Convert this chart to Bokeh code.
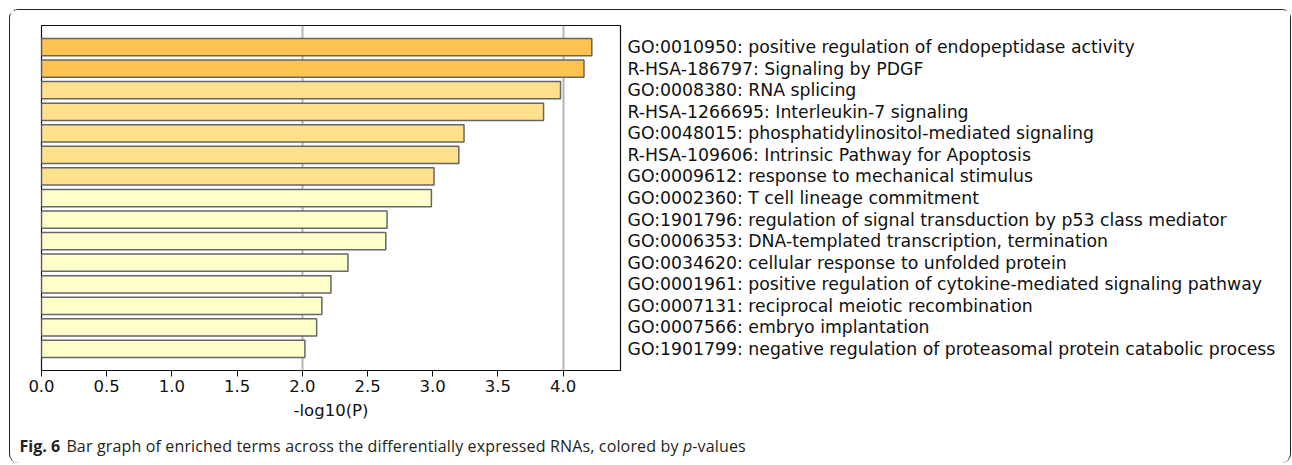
from bokeh.plotting import figure
from bokeh.layouts import column
from bokeh.models import Range1d, FixedTicker, ColumnDataSource, Div
from bokeh.embed import file_html
from bokeh.resources import INLINE

terms = [
    "GO:0010950: positive regulation of endopeptidase activity",
    "R-HSA-186797: Signaling by PDGF",
    "GO:0008380: RNA splicing",
    "R-HSA-1266695: Interleukin-7 signaling",
    "GO:0048015: phosphatidylinositol-mediated signaling",
    "R-HSA-109606: Intrinsic Pathway for Apoptosis",
    "GO:0009612: response to mechanical stimulus",
    "GO:0002360: T cell lineage commitment",
    "GO:1901796: regulation of signal transduction by p53 class mediator",
    "GO:0006353: DNA-templated transcription, termination",
    "GO:0034620: cellular response to unfolded protein",
    "GO:0001961: positive regulation of cytokine-mediated signaling pathway",
    "GO:0007131: reciprocal meiotic recombination",
    "GO:0007566: embryo implantation",
    "GO:1901799: negative regulation of proteasomal protein catabolic process",
]
neg_log_p = [4.22, 4.16, 3.98, 3.85, 3.24, 3.20, 3.01, 2.99, 2.65, 2.64,
             2.35, 2.22, 2.15, 2.11, 2.02]
x_ticks = [0.0, 0.5, 1.0, 1.5, 2.0, 2.5, 3.0, 3.5, 4.0]
grid_ticks = [2, 4]
caption_bold = "Fig. 6"
caption_main = "Bar graph of enriched terms across the differentially expressed RNAs, colored by"
caption_italic = "p"
caption_tail = "-values"

def bar_color(v):
    if v >= 4:
        return "#FFC44F"
    if v >= 3:
        return "#FFE08D"
    return "#FFFFCC"

ypos = list(range(len(terms)))
src = ColumnDataSource(dict(y=ypos, v=neg_log_p, c=[bar_color(v) for v in neg_log_p]))

FONT = "DejaVu Sans"
FS = "16.5px"
LFS = "17.3px"

W = 1280
p = figure(width=W, height=420, output_backend="svg", toolbar_location=None,
           x_range=Range1d(0, 4.44), y_range=Range1d(len(terms), -1),
           y_axis_location="right",
           min_border_left=31, min_border_right=670, min_border_top=15,
           min_border_bottom=60)
p.background_fill_color = "white"
p.border_fill_color = "white"
p.outline_line_color = "#111111"
p.outline_line_width = 1.2

p.hbar(y="y", left=0, right="v", height=0.8, source=src, fill_color="c",
       line_color="#666666", line_width=1.5)

p.ygrid.visible = False
p.xgrid.ticker = FixedTicker(ticks=grid_ticks)
p.xgrid.grid_line_color = "#b5b5b5"
p.xgrid.grid_line_width = 2

xa = p.xaxis[0]
xa.ticker = FixedTicker(ticks=x_ticks)
xa.major_label_overrides = {t: f"{t:.1f}" for t in x_ticks}
xa.major_tick_out = 6
xa.major_tick_in = 0
xa.minor_tick_line_color = None
xa.axis_line_color = "#111111"
xa.axis_line_width = 1.2
xa.major_tick_line_color = "#111111"
xa.major_label_text_font = FONT
xa.major_label_text_font_size = FS
xa.major_label_text_color = "#111111"
xa.major_label_standoff = 3
xa.axis_label = "-log10(P)"
xa.axis_label_text_font = FONT
xa.axis_label_text_font_size = FS
xa.axis_label_text_font_style = "normal"
xa.axis_label_text_color = "#111111"
xa.axis_label_standoff = 6

ya = p.yaxis[0]
ya.ticker = FixedTicker(ticks=ypos)
ya.major_label_overrides = {i: t for i, t in enumerate(terms)}
ya.major_tick_line_color = None
ya.major_tick_out = 0
ya.major_tick_in = 0
ya.minor_tick_line_color = None
ya.axis_line_color = None
ya.major_label_text_font = FONT
ya.major_label_text_font_size = LFS
ya.major_label_text_color = "#111111"
ya.major_label_standoff = 7

CH = 33
cap_html = (
    '<div style="font-family:\'Open Sans\';font-size:16px;line-height:20px;'
    'letter-spacing:0.15px;padding:6px 0 0 9.5px;color:#231f20;white-space:nowrap;">'
    f'<b style="margin-right:2px;letter-spacing:0;">{caption_bold}</b> {caption_main} '
    f'<i>{caption_italic}</i>{caption_tail}</div>'
)
cap = Div(text=cap_html, width=W, height=CH, margin=0)

layout = column(p, cap, spacing=0, margin=(9, 0, 0, 9),
                styles={"border": "1.5px solid #222222", "border-bottom": "none",
                        "border-radius": "9px", "background": "white"})

open("out.html", "w").write(file_html(layout, INLINE))
